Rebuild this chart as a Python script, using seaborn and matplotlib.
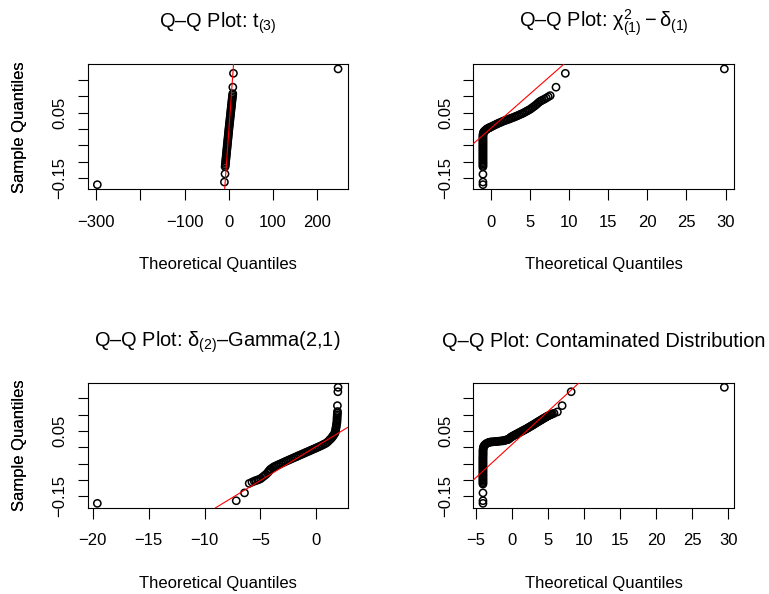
import matplotlib
matplotlib.use("Agg")
import matplotlib.pyplot as plt
import seaborn as sns
import pandas as pd

# ---------------- data ----------------
titles = [
    r"Q–Q Plot: $\mathrm{t}_{(3)}$",
    r"Q–Q Plot: $\mathrm{\chi}^{2}_{(1)} - \mathrm{\delta}_{(1)}$",
    r"Q–Q Plot: $\mathrm{\delta}_{(2)}$–Gamma(2,1)",
    "Q–Q Plot: Contaminated Distribution",
]

# (theoretical quantile, sample quantile) pairs
t3_points = [
    (-297.0, -0.171), (-10.0, -0.163), (-8.6, -0.138),
    (-8.4, -0.116), (-8.0, -0.111), (-7.6, -0.106), (-7.2, -0.101), (-6.9, -0.096),
    (-6.5, -0.091), (-6.1, -0.086), (-5.8, -0.081), (-5.4, -0.076), (-5.0, -0.071),
    (-4.7, -0.066), (-4.3, -0.061), (-3.9, -0.056), (-3.6, -0.051), (-3.2, -0.046),
    (-2.8, -0.041), (-2.5, -0.036), (-2.1, -0.031), (-1.7, -0.026), (-1.4, -0.021),
    (-1.0, -0.016), (-0.6, -0.011), (-0.3, -0.006), (0.1, -0.001), (0.5, 0.004),
    (0.9, 0.009), (1.3, 0.014), (1.7, 0.019), (2.1, 0.024), (2.5, 0.029),
    (2.9, 0.034), (3.3, 0.039), (3.7, 0.044), (4.1, 0.049), (4.5, 0.054),
    (4.9, 0.059), (5.3, 0.064), (5.7, 0.069), (6.1, 0.074), (6.5, 0.079),
    (6.9, 0.084), (7.3, 0.089), (7.7, 0.094), (8.2, 0.099), (8.6, 0.104),
    (8.9, 0.108),
    (9.0, 0.128), (10.4, 0.1705), (246.7, 0.184),
]

chisq_points = [
    (-0.99, -0.171), (-0.99, -0.163), (-0.99, -0.139),
    (-0.99, -0.116), (-0.99, -0.112), (-0.99, -0.108), (-0.99, -0.104), (-0.99, -0.100),
    (-0.99, -0.096), (-0.99, -0.092), (-0.99, -0.088), (-0.99, -0.084), (-0.99, -0.080),
    (-0.99, -0.076), (-0.99, -0.072), (-0.99, -0.068), (-0.99, -0.064), (-0.99, -0.060),
    (-0.99, -0.056), (-0.99, -0.052), (-0.99, -0.048), (-0.99, -0.044), (-0.99, -0.040),
    (-0.99, -0.036), (-0.99, -0.032), (-0.99, -0.028), (-0.99, -0.024),
    (-0.99, -0.020), (-0.97, -0.016), (-0.94, -0.012), (-0.88, -0.009), (-0.80, -0.007),
    (-0.73, -0.0056), (-0.63, -0.003), (-0.53, -0.001), (-0.43, 0.0006), (-0.31, 0.0022),
    (-0.20, 0.0035), (-0.09, 0.0047),
    (0.0, 0.0058), (0.2, 0.0082), (0.4, 0.0106), (0.6, 0.0130), (0.8, 0.0153),
    (1.0, 0.0175), (1.2, 0.0196), (1.4, 0.0217), (1.6, 0.0239), (1.8, 0.0256),
    (2.0, 0.0273), (2.2, 0.0290), (2.4, 0.0307), (2.6, 0.0326), (2.8, 0.0345),
    (3.0, 0.0364), (3.2, 0.0383), (3.4, 0.0404), (3.6, 0.0425), (3.8, 0.0447),
    (4.0, 0.0469), (4.2, 0.0491), (4.4, 0.0518), (4.6, 0.0544), (4.8, 0.0571),
    (5.0, 0.0597), (5.2, 0.0632), (5.4, 0.0667), (5.6, 0.0702), (5.8, 0.0741),
    (6.0, 0.0783), (6.2, 0.0825), (6.4, 0.0858), (6.6, 0.0882), (6.85, 0.0913),
    (7.1, 0.0948), (7.35, 0.0985), (7.6, 0.1022),
    (8.34, 0.128), (9.53, 0.1705), (29.84, 0.184),
]

gamma_points = [
    (-19.6, -0.171), (-7.16, -0.163), (-6.42, -0.139), (-6.0, -0.110), (-5.75, -0.106),
    (-5.55, -0.1031), (-5.40, -0.1012), (-5.25, -0.0994), (-5.10, -0.0976), (-4.95, -0.0949),
    (-4.80, -0.0907), (-4.65, -0.0866), (-4.50, -0.0825), (-4.35, -0.0775), (-4.28, -0.0745),
    (-4.20, -0.0711), (-4.12, -0.0677), (-4.05, -0.0658), (-3.90, -0.0617),
    (-3.75, -0.0584), (-3.60, -0.0561), (-3.45, -0.0537), (-3.30, -0.0514), (-3.15, -0.0491),
    (-3.00, -0.0467), (-2.85, -0.0444), (-2.70, -0.0421), (-2.55, -0.0398), (-2.40, -0.0375),
    (-2.25, -0.0353), (-2.10, -0.0330), (-1.95, -0.0307), (-1.80, -0.0285), (-1.65, -0.0262),
    (-1.50, -0.0239), (-1.35, -0.0217), (-1.20, -0.0194), (-1.05, -0.0172), (-0.90, -0.0149),
    (-0.75, -0.0127), (-0.60, -0.0104), (-0.45, -0.0082), (-0.30, -0.0059), (-0.15, -0.0037),
    (0.00, -0.0014), (0.15, 0.0009), (0.30, 0.0031), (0.45, 0.0056), (0.60, 0.0082),
    (0.75, 0.0108), (0.90, 0.0135), (1.05, 0.0177), (1.20, 0.0229), (1.30, 0.0265),
    (1.40, 0.0300), (1.46, 0.033), (1.52, 0.036), (1.58, 0.039), (1.64, 0.042),
    (1.70, 0.0453), (1.72, 0.050), (1.75, 0.055), (1.77, 0.060), (1.80, 0.065),
    (1.82, 0.070), (1.85, 0.075), (1.86, 0.080), (1.87, 0.085), (1.87, 0.090),
    (1.88, 0.095), (1.89, 0.100), (1.90, 0.105), (1.91, 0.110),
    (1.90, 0.128), (1.94, 0.1705), (1.96, 0.184),
]

contam_points = [
    (-3.97, -0.171), (-3.97, -0.163), (-3.97, -0.139),
    (-3.97, -0.112), (-3.97, -0.108), (-3.97, -0.104), (-3.97, -0.100), (-3.97, -0.096),
    (-3.97, -0.092), (-3.97, -0.088), (-3.97, -0.084), (-3.97, -0.080), (-3.97, -0.076),
    (-3.97, -0.072), (-3.97, -0.068), (-3.97, -0.064), (-3.97, -0.060), (-3.97, -0.056),
    (-3.97, -0.052), (-3.97, -0.048), (-3.97, -0.044), (-3.97, -0.040), (-3.97, -0.036),
    (-3.97, -0.032), (-3.97, -0.028), (-3.96, -0.024), (-3.96, -0.020), (-3.96, -0.016),
    (-3.96, -0.012),
    (-3.96, -0.008), (-3.94, -0.004), (-3.91, 0.000), (-3.85, 0.004), (-3.75, 0.007),
    (-3.62, 0.010), (-3.47, 0.0123), (-3.30, 0.014), (-3.15, 0.0155), (-3.01, 0.0164),
    (-2.85, 0.0168), (-2.65, 0.0173), (-2.45, 0.0177), (-2.25, 0.0181), (-2.08, 0.0185),
    (-1.90, 0.0189), (-1.70, 0.0193), (-1.50, 0.0198), (-1.30, 0.0202), (-1.16, 0.0205),
    (-1.00, 0.0215), (-0.85, 0.0224), (-0.70, 0.0233), (-0.55, 0.0242), (-0.47, 0.0247),
    (-0.35, 0.0268), (-0.20, 0.0294), (-0.08, 0.0315), (0.00, 0.0329),
    (0.15, 0.0347), (0.30, 0.0365), (0.45, 0.0382), (0.60, 0.0400), (0.69, 0.0411),
    (0.85, 0.0430), (1.00, 0.0448), (1.15, 0.0466), (1.30, 0.0483), (1.45, 0.0501),
    (1.60, 0.0519), (1.75, 0.0536), (1.90, 0.0554), (2.05, 0.0571),
    (2.20, 0.0591), (2.35, 0.0610), (2.50, 0.0630), (2.65, 0.0649), (2.80, 0.0669),
    (2.95, 0.0688), (3.10, 0.0708), (3.25, 0.0731), (3.40, 0.0751),
    (3.55, 0.0771), (3.70, 0.0791), (3.85, 0.0811), (4.00, 0.0831), (4.15, 0.0851),
    (4.30, 0.0871), (4.45, 0.0891), (4.60, 0.0910), (4.75, 0.0930),
    (4.90, 0.0950), (5.05, 0.0967), (5.20, 0.0983), (5.35, 0.1000), (5.50, 0.1014),
    (5.65, 0.1027), (5.88, 0.1047),
    (6.34, 0.1088), (7.00, 0.128), (8.25, 0.1705), (29.47, 0.184),
]

# reference line (qqline) for each panel: intercept, slope
line_intercepts = [-0.0043, 0.0015, 0.0028, 0.0082]
line_slopes = [0.0191, 0.0211, 0.0208, 0.0203]

# tick positions and labels
x_ticks = [
    [-300, -200, -100, 0, 100, 200],
    [0, 5, 10, 15, 20, 25, 30],
    [-20, -15, -10, -5, 0],
    [-5, 0, 5, 10, 15, 20, 25, 30],
]
x_ticklabels = [
    ["−300", "", "−100", "0", "100", "200"],
    ["0", "5", "10", "15", "20", "25", "30"],
    ["−20", "−15", "−10", "−5", "0"],
    ["−5", "0", "5", "10", "15", "20", "25", "30"],
]
y_ticks = [-0.15, -0.10, -0.05, 0.00, 0.05, 0.10, 0.15]
y_ticklabels = ["−0.15", "", "", "", "0.05", "", ""]

x_label = "Theoretical Quantiles"
y_label = "Sample Quantiles"

# ---------------- styling ----------------
sns.set_theme(style="ticks")
plt.rcParams.update({
    "font.family": ["Liberation Sans", "DejaVu Sans"],
    "mathtext.fontset": "custom",
    "mathtext.rm": "Liberation Sans",
    "mathtext.it": "Liberation Sans:italic",
    "mathtext.bf": "Liberation Sans:bold",
    "mathtext.sf": "Liberation Sans",
    "axes.edgecolor": "black",
    "axes.linewidth": 0.8,
    "axes.labelcolor": "black",
    "text.color": "black",
    "xtick.color": "black",
    "ytick.color": "black",
    "xtick.major.size": 7.8,
    "ytick.major.size": 7.5,
    "xtick.major.width": 0.8,
    "ytick.major.width": 0.8,
    "xtick.labelsize": 12,
    "ytick.labelsize": 12,
    "axes.labelsize": 12,
    "xtick.major.pad": 10.5,
    "ytick.major.pad": 7.0,
})

W, H = 769, 594
fig = plt.figure(figsize=(W / 100, H / 100), dpi=100)
fig.patch.set_facecolor("white")

# axes boxes in pixels: left, top, right, bottom
boxes = [
    (87.7, 64.3, 347.7, 189.3),
    (473.3, 64.3, 734.0, 189.3),
    (87.7, 382.7, 347.7, 508.0),
    (473.3, 382.7, 734.0, 508.0),
]
title_offsets = [37.0, 37.0, 35.7, 35.7]
panels = [t3_points, chisq_points, gamma_points, contam_points]

for i, (pts, box) in enumerate(zip(panels, boxes)):
    l, t, r, b = box
    ax = fig.add_axes([l / W, 1 - b / H, (r - l) / W, (b - t) / H])
    df = pd.DataFrame(pts, columns=["theoretical", "sample"])
    sns.scatterplot(data=df, x="theoretical", y="sample", ax=ax,
                    marker="o", s=27, facecolors="none", edgecolor="black",
                    linewidth=1.1, legend=False, zorder=2)
    ax.margins(x=0.04, y=0.04)
    ax.axline((0, line_intercepts[i]), slope=line_slopes[i],
              color="red", linewidth=0.8, zorder=3)

    for side in ["top", "right", "left", "bottom"]:
        ax.spines[side].set_visible(True)
        ax.spines[side].set_color("black")
        ax.spines[side].set_linewidth(0.8)

    ax.set_xticks(x_ticks[i])
    ax.set_xticklabels(x_ticklabels[i])
    ax.set_yticks(y_ticks)
    ax.set_yticklabels(y_ticklabels)
    ax.tick_params(axis="y", labelrotation=90)
    for lbl in ax.get_yticklabels():
        lbl.set_va("center")

    ax.set_xlabel(x_label)
    ax.set_ylabel(y_label)
    hpx = b - t
    wpx = r - l
    ax.xaxis.label.set_va("baseline")
    ax.xaxis.set_label_coords(0.5, -80.0 / hpx)
    ax.yaxis.label.set_va("baseline")
    ax.yaxis.set_label_coords(-(l - 23.6) / wpx, 0.5)

    ax.text(0.5, 1 + title_offsets[i] / hpx, titles[i], transform=ax.transAxes,
            ha="center", va="baseline", fontsize=14.4)

fig.savefig("out.png", dpi=100, facecolor="white")
